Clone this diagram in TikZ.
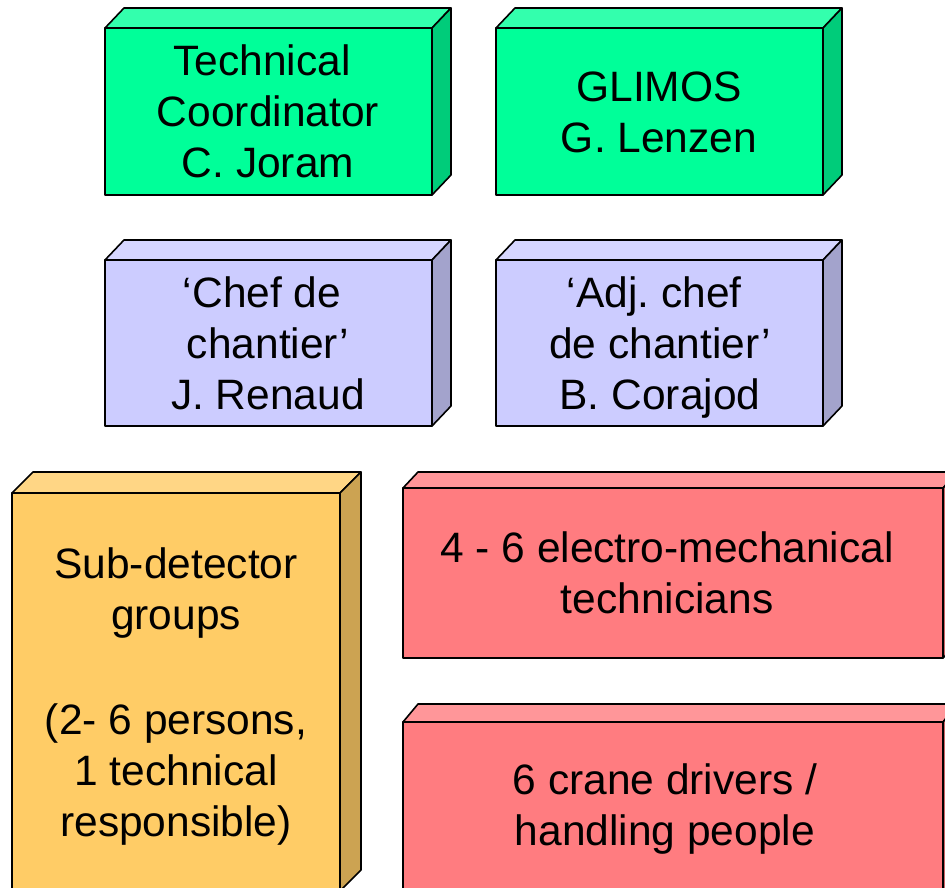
\documentclass[tikz,border=0pt]{standalone}
\usepackage{fontspec}
\setmainfont{Liberation Sans}
\frenchspacing
\definecolor{gfront}{HTML}{00FF99}
\definecolor{gtop}{HTML}{33FFAD}
\definecolor{gside}{HTML}{00CC7A}
\definecolor{pfront}{HTML}{CCCCFF}
\definecolor{ptop}{HTML}{D6D6FF}
\definecolor{pside}{HTML}{A3A3CC}
\definecolor{ofront}{HTML}{FFCC66}
\definecolor{otop}{HTML}{FFD685}
\definecolor{oside}{HTML}{CCA352}
\definecolor{rfront}{HTML}{FF7C80}
\definecolor{rtop}{HTML}{FF9699}
\definecolor{rside}{HTML}{CC6366}
\newcommand\tsp{\hspace*{0.278em}}
\tikzset{
  face/.style={draw=black, line width=1.6pt, line join=round},
  lbl/.style={align=center, font=\fontsize{42.5}{51}\selectfont\frenchspacing, text=black, inner sep=0pt}
}
\newcommand\cubebox[8]{%
  \fill[#8front] (#2,#3) rectangle (#4,#5);
  \filldraw[face,fill=#8top] (#2,#3) -- (#2+#6,#3-#7) -- (#4+#6,#3-#7) -- (#4,#3) -- cycle;
  \filldraw[face,fill=#8side] (#4,#3) -- (#4+#6,#3-#7) -- (#4+#6,#5-#7) -- (#4,#5) -- cycle;
  \draw[face] (#2,#3) rectangle (#4,#5);
  \coordinate (#1) at ({(#2+#4)/2},{(#3+#5)/2});
}
\begin{document}
\begin{tikzpicture}[x=1pt,y=-1pt]
\useasboundingbox (0,0) rectangle (945,887);
\clip (0,0) rectangle (945,887);
\fill[white] (0,0) rectangle (945,887);
% boxes
\cubebox{tcbox}{105}{28}{432}{195}{19}{20}{g}
\cubebox{glbox}{496}{28}{823}{195}{19}{20}{g}
\cubebox{cdbox}{105}{260}{432}{426}{19}{20}{p}
\cubebox{acbox}{496}{260}{823}{426}{19}{20}{p}
\cubebox{sdbox}{12}{493}{340}{891}{21}{21}{o}
\cubebox{embox}{403}{488}{943}{658}{15}{16}{r}
\cubebox{crbox}{403}{722}{943}{900}{15}{18}{r}
% labels
\node[lbl] (tc) at (268,111) {Technical\tsp\\Coordinator\\C. Joram};
\node[lbl] (gl) at (659,112) {GLIMOS\\G. Lenzen};
\node[lbl] (cd) at (268,343) {‘Chef de\tsp\\chantier’\tsp\\J. Renaud};
\node[lbl] (ac) at (660,348) {‘Adj. chef\tsp\\de chantier’\tsp\\B. Corajod};
\node[lbl] (sd) at (176,696) {Sub-detector\\groups\\[54pt](2- 6 persons,\\1 technical\\responsible)};
\node[lbl] (em) at (667,573) {4 - 6 electro-mechanical\\technicians};
\node[lbl] (cr) at (665,809) {6 crane drivers /\\handling people};
\end{tikzpicture}
\end{document}
